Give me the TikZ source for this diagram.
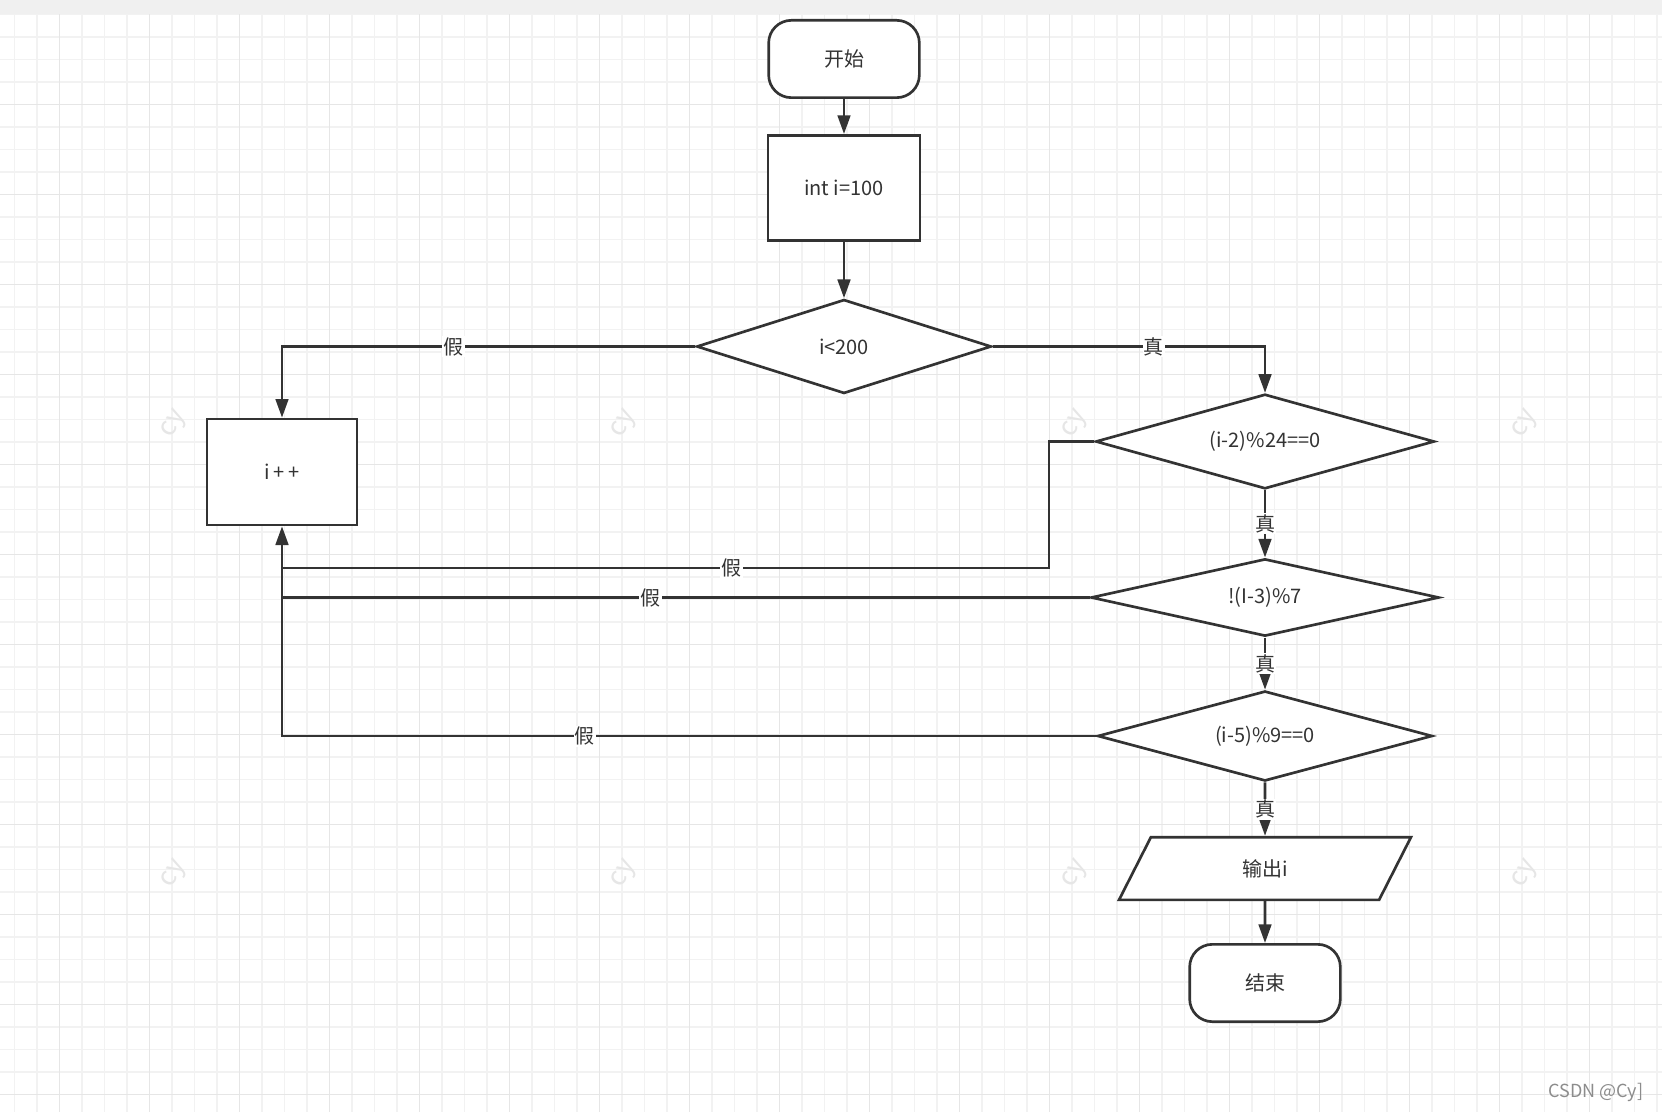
\documentclass[tikz,border=0pt]{standalone}
\usepackage{fontspec}
\setmainfont{Noto Sans CJK SC}
\usetikzlibrary{shapes.geometric,arrows.meta}

\definecolor{ink}{HTML}{333333}
\definecolor{gridminor}{HTML}{F2F2F2}
\definecolor{gridmajor}{HTML}{E6E6E6}
\definecolor{band}{HTML}{F0F0F0}
\newcommand{\chartfont}{\fontsize{15}{17}\selectfont}

\begin{document}
\begin{tikzpicture}[
        x=0.75pt, y=-0.75pt,
        every node/.style={font=\chartfont, text=ink},
        flow/.style={draw=ink, line width=2pt, fill=white, inner sep=0pt},
        terminal/.style={flow, rectangle, rounded corners=17pt,
            minimum width=113pt, minimum height=58pt},
        process/.style={flow, rectangle, minimum width=114pt, minimum height=79pt},
        decision/.style={flow, diamond, aspect=3},
        io/.style={flow, trapezium, trapezium left angle=71, trapezium right angle=109,
            trapezium stretches=true, minimum width=219pt, minimum height=47pt},
        link/.style={draw=ink, line width=2pt},
        arrow/.style={link, -{Triangle[length=14pt, width=9.5pt]}},
        tag/.style={fill=white, inner sep=1pt}
    ]
    \useasboundingbox (0,0) rectangle (1662,1112);

    % background grid
    \fill[white] (0,0) rectangle (1662,1112);
    \foreach \k in {0,...,73} {
        \draw[gridminor, line width=1.1pt] (14.7+22.5*\k,14) -- (14.7+22.5*\k,1112);
    }
    \foreach \k in {0,...,48} {
        \draw[gridminor, line width=1.1pt] (0,14.7+22.5*\k) -- (1662,14.7+22.5*\k);
    }
    \foreach \k in {0,...,18} {
        \draw[gridmajor, line width=1.1pt] (59.7+90*\k,14) -- (59.7+90*\k,1112);
    }
    \foreach \k in {1,...,12} {
        \draw[gridmajor, line width=1.1pt] (0,14.7+90*\k) -- (1662,14.7+90*\k);
    }
    \fill[band] (0,0) rectangle (1662,14);

    % watermarks
    \foreach \wx in {175,625,1076,1526} {
        \foreach \wy in {424,874} {
            \node[text=gridmajor, rotate=60, font=\fontsize{20}{22}\selectfont] at (\wx,\wy) {cy};
        }
    }
    \node[text=black!45, font=\fontsize{13.5}{15}\selectfont, anchor=east] at (1648,1092) {CSDN @Cy]};

    % nodes
    \node[
        terminal,
        name=start
    ] at (844,59) {开始};
    \node[
        process,
        name=init
    ] at (844,188) {int i=100};
    \node[
        decision,
        minimum width=221pt,
        minimum height=70.5pt,
        name=cond
    ] at (844,346.5) {i<200};
    \node[
        decision,
        minimum width=254pt,
        minimum height=71pt,
        name=mod24
    ] at (1265,441.5) {(i-2)\%24==0};
    \node[
        decision,
        minimum width=261pt,
        minimum height=58pt,
        name=mod7
    ] at (1265,597.5) {!(I-3)\%7};
    \node[
        decision,
        minimum width=251pt,
        minimum height=67.5pt,
        name=mod9
    ] at (1265,736) {(i-5)\%9==0};
    \node[
        io,
        name=output
    ] at (1265,868.5) {输出i};
    \node[
        terminal,
        name=stop
    ] at (1265,983) {结束};
    \node[
        process,
        minimum width=112.5pt,
        minimum height=79.5pt,
        name=incr
    ] at (282,472) {i\,+\,+};

    \coordinate (jog) at (1049,568);

    % main column
    \draw[arrow] (start) -- (init);
    \draw[arrow] (init) -- (cond);

    \draw[arrow] (cond.east) -| node[tag, pos=0.296] {真} (mod24.north);
    \draw[arrow] (mod24.south) -- node[tag] {真} (mod7.north);
    \draw[arrow] (mod7.south) -- node[tag] {真} (mod9.north);
    \draw[arrow] (mod9.south) -- node[tag] {真} (output.north);
    \draw[arrow] (output) -- (stop);

    % false branches
    \draw[arrow] (cond.west) -| node[tag, pos=0.2925] {假} (incr.north);
    \draw[link] (mod24.west) -| (jog) -- node[tag, pos=0.414] {假} (jog -| incr);
    \draw[link] (mod7.west) -- node[tag, pos=0.5435] {假} (mod7.west -| incr);
    \draw[arrow] (mod9.west) -| node[tag, pos=0.314] {假} (incr.south);
\end{tikzpicture}
\end{document}
